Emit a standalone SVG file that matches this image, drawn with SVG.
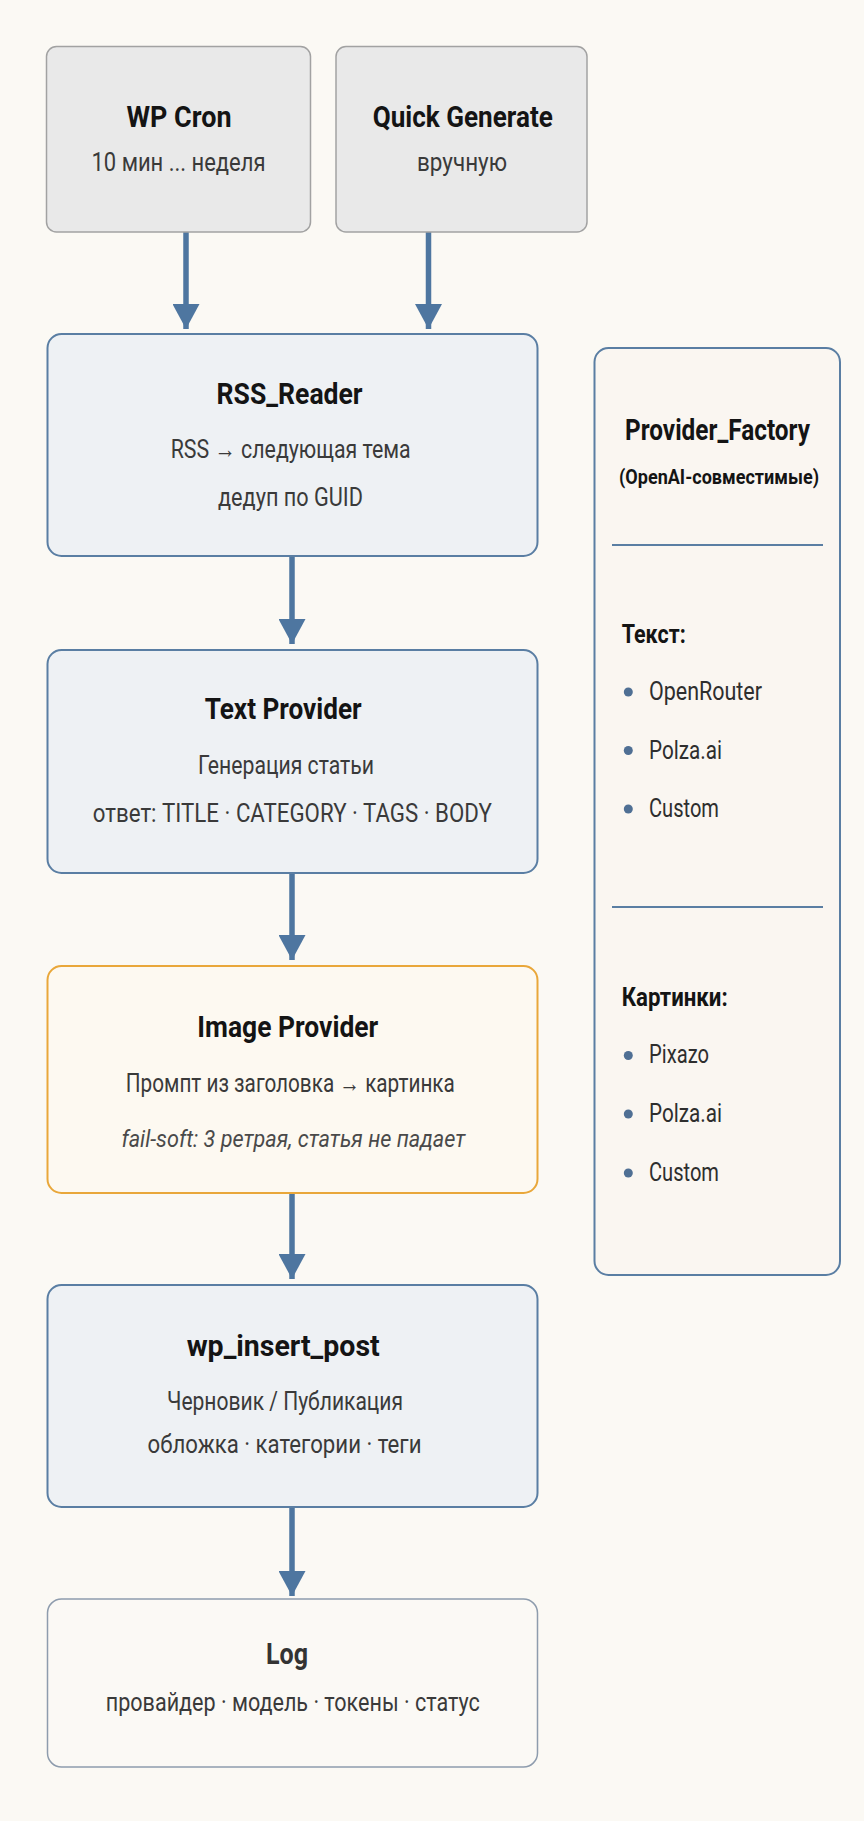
<svg xmlns="http://www.w3.org/2000/svg" width="864" height="1821" viewBox="0 0 864 1821">
<style>
text{font-family:Roboto,"Noto Sans","Liberation Sans",sans-serif;}
.t{font-weight:700;font-size:30px;fill:#141414;text-anchor:middle;}
.b{font-size:25px;fill:#3a3a3a;text-anchor:middle;}
.i{font-size:24px;fill:#4a4a4a;text-anchor:middle;font-style:italic;}
.h{font-weight:700;font-size:26px;fill:#141414;}
.li{font-size:25px;fill:#2e2e2e;}
.trig{fill:#E9E9E9;stroke:#A2A2A2;stroke-width:1.5;}
.blue{fill:#EEF1F4;stroke:#5A7EA3;stroke-width:2;}
.img{fill:#FDF9F1;stroke:#E9A73A;stroke-width:2;}
.log{fill:#FBF9F5;stroke:#8E9CAD;stroke-width:1.5;}
.panel{fill:#FAF6F1;stroke:#5A7EA3;stroke-width:2;}
.div{stroke:#5A7EA3;stroke-width:2;}
.dot{fill:#4F6F94;}
.arr{stroke:#4E76A0;stroke-width:5.5;fill:none;marker-end:url(#ah);}
</style>
<defs>
<marker id="ah" markerUnits="userSpaceOnUse" markerWidth="26" markerHeight="27" refX="25" refY="13.5" orient="auto">
<path d="M0,0 L25,13.5 L0,27 Z" fill="#4E76A0"/>
</marker>
</defs>
<rect width="864" height="1821" fill="#FBF9F4"/>

<g id="connectors">
<line class="arr" x1="186" y1="232" x2="186" y2="329"/>
<line class="arr" x1="428.5" y1="232" x2="428.5" y2="329"/>
<line class="arr" x1="292" y1="556" x2="292" y2="644"/>
<line class="arr" x1="292" y1="873" x2="292" y2="960"/>
<line class="arr" x1="292" y1="1193" x2="292" y2="1279"/>
<line class="arr" x1="292" y1="1507" x2="292" y2="1596"/>
</g>

<g id="wp-cron">
<rect class="trig" x="46.5" y="46.5" width="264" height="185.5" rx="10"/>
<text class="t" x="179" y="127" textLength="105" lengthAdjust="spacingAndGlyphs">WP Cron</text>
<text class="b" x="178.5" y="171" textLength="174" lengthAdjust="spacingAndGlyphs">10 мин ... неделя</text>
</g>

<g id="quick-generate">
<rect class="trig" x="336" y="46.5" width="251" height="185.5" rx="10"/>
<text class="t" x="462.8" y="127" textLength="180" lengthAdjust="spacingAndGlyphs">Quick Generate</text>
<text class="b" x="462" y="171" textLength="90" lengthAdjust="spacingAndGlyphs">вручную</text>
</g>

<g id="rss-reader">
<rect class="blue" x="47.5" y="334" width="490" height="222" rx="14"/>
<text class="t" x="289.6" y="404" textLength="146" lengthAdjust="spacingAndGlyphs">RSS_Reader</text>
<text class="b" x="290.7" y="457.5" textLength="240" lengthAdjust="spacingAndGlyphs">RSS → следующая тема</text>
<text class="b" x="290.5" y="505.5" textLength="145" lengthAdjust="spacingAndGlyphs">дедуп по GUID</text>
</g>

<g id="text-provider">
<rect class="blue" x="47.5" y="650" width="490" height="223" rx="14"/>
<text class="t" x="283.2" y="719" textLength="157" lengthAdjust="spacingAndGlyphs">Text Provider</text>
<text class="b" x="286" y="773.5" textLength="176" lengthAdjust="spacingAndGlyphs">Генерация статьи</text>
<text class="b" x="292.3" y="822" textLength="399" lengthAdjust="spacingAndGlyphs">ответ: TITLE · CATEGORY · TAGS · BODY</text>
</g>

<g id="image-provider">
<rect class="img" x="47.5" y="966" width="490" height="227" rx="14"/>
<text class="t" x="287.8" y="1036.5" textLength="181" lengthAdjust="spacingAndGlyphs">Image Provider</text>
<text class="b" x="290.3" y="1092" textLength="329" lengthAdjust="spacingAndGlyphs">Промпт из заголовка → картинка</text>
<text class="i" x="293.4" y="1146.5" textLength="344" lengthAdjust="spacingAndGlyphs">fail-soft: 3 ретрая, статья не падает</text>
</g>

<g id="wp-insert-post">
<rect class="blue" x="47.5" y="1285" width="490" height="222" rx="14"/>
<text class="t" x="283.2" y="1355.5" textLength="193" lengthAdjust="spacingAndGlyphs">wp_insert_post</text>
<text class="b" x="285" y="1409.5" textLength="236" lengthAdjust="spacingAndGlyphs">Черновик / Публикация</text>
<text class="b" x="284.5" y="1452.5" textLength="274" lengthAdjust="spacingAndGlyphs">обложка · категории · теги</text>
</g>

<g id="log">
<rect class="log" x="47.5" y="1599" width="490" height="168" rx="14"/>
<text class="t" x="287" y="1663.5" textLength="42" lengthAdjust="spacingAndGlyphs" style="fill:#333">Log</text>
<text class="b" x="292.8" y="1710.7" textLength="374" lengthAdjust="spacingAndGlyphs">провайдер · модель · токены · статус</text>
</g>

<g id="provider-factory">
<rect class="panel" x="594.5" y="348" width="245.5" height="927" rx="14"/>
<text class="t" x="717.5" y="440" textLength="185" lengthAdjust="spacingAndGlyphs">Provider_Factory</text>
<text class="t" x="719" y="484" style="font-size:21px" textLength="200" lengthAdjust="spacingAndGlyphs">(OpenAI-совместимые)</text>
<line class="div" x1="612" y1="545" x2="823" y2="545"/>
<text class="h" x="621.7" y="643" textLength="64" lengthAdjust="spacingAndGlyphs">Текст:</text>
<circle class="dot" cx="628.3" cy="692" r="4.5"/>
<text class="li" x="649" y="700" textLength="113" lengthAdjust="spacingAndGlyphs">OpenRouter</text>
<circle class="dot" cx="628.3" cy="750.5" r="4.5"/>
<text class="li" x="649" y="758.5" textLength="73" lengthAdjust="spacingAndGlyphs">Polza.ai</text>
<circle class="dot" cx="628.3" cy="809" r="4.5"/>
<text class="li" x="649" y="817" textLength="70" lengthAdjust="spacingAndGlyphs">Custom</text>
<line class="div" x1="612" y1="907" x2="823" y2="907"/>
<text class="h" x="621.7" y="1006" textLength="106" lengthAdjust="spacingAndGlyphs">Картинки:</text>
<circle class="dot" cx="628.3" cy="1055.5" r="4.5"/>
<text class="li" x="649" y="1063" textLength="60" lengthAdjust="spacingAndGlyphs">Pixazo</text>
<circle class="dot" cx="628.3" cy="1114" r="4.5"/>
<text class="li" x="649" y="1121.5" textLength="73" lengthAdjust="spacingAndGlyphs">Polza.ai</text>
<circle class="dot" cx="628.3" cy="1173" r="4.5"/>
<text class="li" x="649" y="1180.5" textLength="70" lengthAdjust="spacingAndGlyphs">Custom</text>
</g>
</svg>
